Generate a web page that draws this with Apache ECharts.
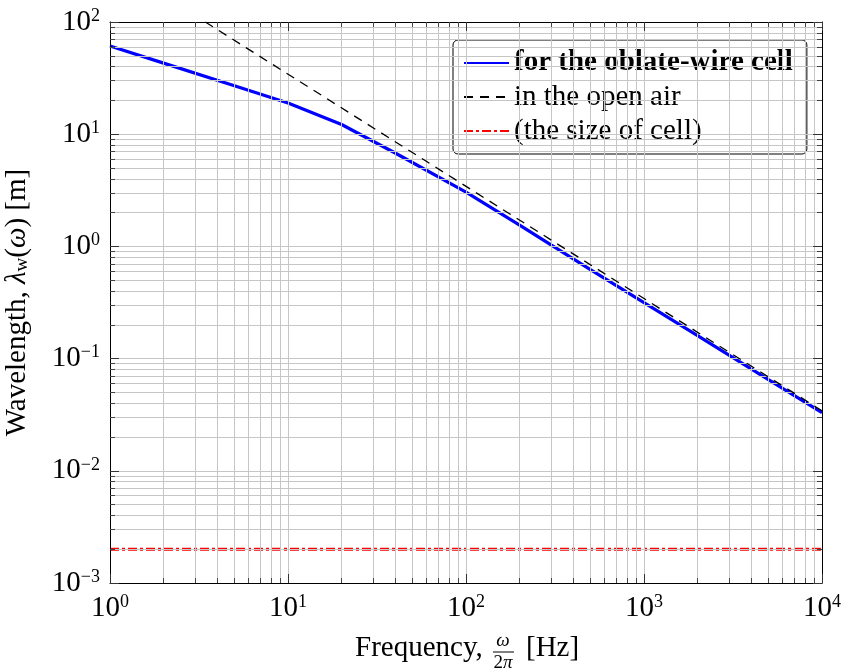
<!DOCTYPE html>
<html><head><meta charset="utf-8">
<script src="https://cdn.jsdelivr.net/npm/echarts@6/dist/echarts.min.js"></script>
<style>html,body{margin:0;padding:0;background:#fff}#c{width:843px;height:671px}</style>
</head><body><div id="c"></div>
<script>
const FONT = 'Liberation Serif';
const cellFreq = [1, 2, 5, 10, 20, 40, 100, 200, 500, 1000, 2000, 5000, 10000];
const cellWavelength = [61, 43, 27, 19, 12.2, 6.8, 3.05, 1.55, 0.62, 0.315, 0.16, 0.065, 0.033];
const airFreq = [3.43, 10000];
const airWavelength = [100, 0.0343];
const sizeFreq = [1, 10000];
const sizeWavelength = [0.002, 0.002];
const seriesNames = ['for the oblate-wire cell', 'in the open air', '(the size of cell)'];
const xRange = [1, 10000];
const yRange = [0.001, 100];

const zip = (a, b) => a.map((v, i) => [v, b[i]]);
const GRID = '#c6c6c6';

function tickFmt(v) {
  const e = Math.round(Math.log10(v));
  const s = e < 0 ? '\u2212' + (-e) : String(e);
  return '{b|10}{e|' + s + '}';
}
const labelRich = {
  b: { fontFamily: FONT, fontSize: 29, lineHeight: 30, color: '#000' },
  e: { fontFamily: FONT, fontSize: 18, lineHeight: 16, verticalAlign: 'top', color: '#000' }
};

function logAxis(range, pos, show) {
  return {
    type: 'log', logBase: 10, min: range[0], max: range[1], position: pos,
    axisLine: { show: true, lineStyle: { color: '#000', width: 1 } },
    axisTick: { show: true, inside: true, length: 9, lineStyle: { color: '#333' } },
    minorTick: { show: true, splitNumber: 9, length: 5, lineStyle: { color: '#444' } },
    axisLabel: show ? { show: true, margin: 10, formatter: tickFmt, rich: labelRich } : { show: false },
    splitLine: { show: show, lineStyle: { color: GRID, width: 1 } },
    minorSplitLine: { show: show, lineStyle: { color: GRID, width: 1 } },
    z: 5
  };
}

const chart = echarts.init(document.getElementById('c'), null, { renderer: 'canvas' });
const xMain = logAxis(xRange, 'bottom', true);
const yMain = logAxis(yRange, 'left', true);
yMain.name = 'Wavelength, {i|\u03bb}{s|w}(' + '{i|\u03c9}) [m]';
yMain.nameLocation = 'middle';
yMain.nameRotate = 90;
yMain.nameGap = 78;
yMain.nameTextStyle = {
  fontFamily: FONT, fontSize: 29, color: '#000', lineHeight: 30,
  rich: {
    i: { fontFamily: FONT, fontSize: 29, fontStyle: 'italic', color: '#000', lineHeight: 30 },
    s: { fontFamily: FONT, fontSize: 19, color: '#000', verticalAlign: 'bottom', lineHeight: 18 }
  }
};

const option = {
  animation: false,
  backgroundColor: '#fff',
  grid: { left: 110, right: 21, top: 22, bottom: 88, containLabel: false, outerBoundsMode: 'none' },
  xAxis: [xMain, logAxis(xRange, 'top', false)],
  yAxis: [yMain, logAxis(yRange, 'right', false)],
  legend: {
    orient: 'vertical', left: 453, top: 40,
    padding: [6, 14, 6, 10], itemGap: 0, itemWidth: 45, itemHeight: 12, itemTextGap: 8,
    backgroundColor: '#fff', borderColor: '#000', borderWidth: 1, borderRadius: 5,
    itemStyle: { opacity: 0, borderWidth: 0 },
    textStyle: { fontFamily: FONT, fontSize: 29, color: '#000', lineHeight: 34 },
    data: [
      { name: seriesNames[0], textStyle: { fontFamily: FONT, fontSize: 29, fontWeight: 'bold', color: '#000', lineHeight: 34 } },
      { name: seriesNames[1] },
      { name: seriesNames[2] }
    ]
  },
  series: [
    { name: seriesNames[0], type: 'line', data: zip(cellFreq, cellWavelength), symbol: 'none',
      lineStyle: { color: '#0000ff', width: 3.2 }, itemStyle: { color: '#0000ff' }, z: 4 },
    { name: seriesNames[1], type: 'line', data: zip(airFreq, airWavelength), symbol: 'none',
      lineStyle: { color: '#000', width: 1.3, type: [9, 7] }, itemStyle: { color: '#000' }, z: 5 },
    { name: seriesNames[2], type: 'line', data: zip(sizeFreq, sizeWavelength), symbol: 'none',
      lineStyle: { color: '#ff0000', width: 3, type: [9, 3, 3, 3] }, itemStyle: { color: '#ff0000' }, z: 4 }
  ],
  graphic: [
    { type: 'text', x: 355, y: 648, style: { text: 'Frequency,', fontFamily: FONT, fontSize: 29, fill: '#000', textAlign: 'left', textVerticalAlign: 'middle' } },
    { type: 'text', x: 503, y: 641, style: { text: '\u03c9', fontFamily: FONT, fontSize: 19, fontStyle: 'italic', fill: '#000', textAlign: 'center', textVerticalAlign: 'middle' } },
    { type: 'line', shape: { x1: 493, y1: 652, x2: 514, y2: 652 }, style: { stroke: '#000', lineWidth: 1 } },
    { type: 'text', x: 503, y: 663, style: { text: '2{p|\u03c0}', fontFamily: FONT, fontSize: 19, fill: '#000', textAlign: 'center', textVerticalAlign: 'middle',
      rich: { p: { fontFamily: FONT, fontSize: 19, fontStyle: 'italic', fill: '#000' } } } },
    { type: 'text', x: 526, y: 648, style: { text: '[Hz]', fontFamily: FONT, fontSize: 29, fill: '#000', textAlign: 'left', textVerticalAlign: 'middle' } }
  ]
};
chart.setOption(option);
</script></body></html>
